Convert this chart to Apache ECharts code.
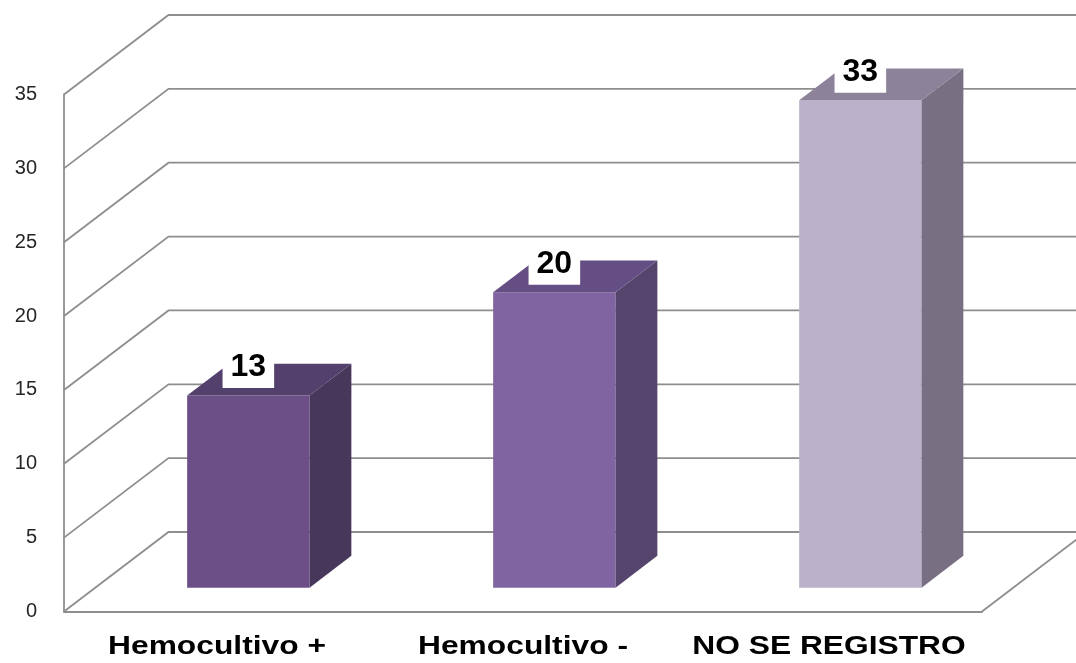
<!DOCTYPE html>
<html>
<head>
<meta charset="utf-8">
<script src="https://cdn.jsdelivr.net/npm/echarts@6/dist/echarts.min.js"></script>
<style>
  html, body { margin: 0; padding: 0; background: #fff; }
  #chart { width: 1076px; height: 663px; }
</style>
</head>
<body>
<div id="chart"></div>
<script>
// Blood-culture results (counts)
const categories = ['Hemocultivo +', 'Hemocultivo -', 'NO SE REGISTRO'];
const counts = [13, 20, 33];
const yTicks = [0, 5, 10, 15, 20, 25, 30, 35];

// face colours per bar: front, side, top
const barFront = ['#6b4f86', '#8064a2', '#bab1ca'];
const barSide = ['#47375b', '#55446c', '#786f82'];
const barTop = ['#54406c', '#654e84', '#8c839a'];

// oblique projection of the box: full depth offset in pixels
const DEPTH_X = 104.5;
const DEPTH_Y = -79.5;
const BAR_FRONT = 0.3;   // depth fraction where a bar starts
const BAR_DEPTH = 0.4;   // depth fraction a bar occupies
const BAR_WIDTH = 0.4;   // fraction of the category band
const WALL_COLOR = '#8e8e8e';
const WALL_WIDTH = 1.8;

const chart = echarts.init(document.getElementById('chart'), null, { renderer: 'canvas' });

// side wall + back wall + floor lines, one item per tick value
function renderWalls(params, api) {
  const cs = params.coordSys;
  const v = api.value(1);
  const y = api.coord([0, v])[1];
  const x0 = cs.x, x1 = cs.x + cs.width;
  const lineStyle = { stroke: WALL_COLOR, lineWidth: WALL_WIDTH, fill: null };
  const children = [
    { type: 'polyline', shape: { points: [[x0, y], [x0 + DEPTH_X, y + DEPTH_Y], [x1 + DEPTH_X, y + DEPTH_Y]] }, style: lineStyle }
  ];
  if (v === 0) {
    children.push({ type: 'line', shape: { x1: x1, y1: y, x2: x1 + DEPTH_X, y2: y + DEPTH_Y }, style: lineStyle });
  }
  return { type: 'group', children: children };
}

// 3D box bars with a value tag over the top face
function renderBars(params, api) {
  const i = api.value(0);
  const v = api.value(1);
  const base = api.coord([i, 0]);
  const top = api.coord([i, v]);
  const catW = api.size([1, 0])[0];
  const w = catW * BAR_WIDTH;
  const ox = DEPTH_X * BAR_FRONT, oy = DEPTH_Y * BAR_FRONT;
  const dx = DEPTH_X * BAR_DEPTH, dy = DEPTH_Y * BAR_DEPTH;
  const xl = base[0] - w / 2 + ox, xr = xl + w;
  const yb = base[1] + oy, yt = top[1] + oy;
  return {
    type: 'group',
    children: [
      { type: 'rect', shape: { x: xl, y: yt, width: w, height: yb - yt }, style: { fill: barFront[i] } },
      { type: 'polygon', shape: { points: [[xr, yt], [xr, yb], [xr + dx, yb + dy], [xr + dx, yt + dy]] }, style: { fill: barSide[i] } },
      { type: 'polygon', shape: { points: [[xl, yt], [xr, yt], [xr + dx, yt + dy], [xl + dx, yt + dy]] }, style: { fill: barTop[i] } },
      {
        type: 'text', x: (xl + xr) / 2, y: yt - 7.5, z2: 10,
        style: {
          text: String(v), fill: '#000',
          font: 'bold 32px "Liberation Sans", Arial, sans-serif',
          align: 'center', verticalAlign: 'bottom',
          textAlign: 'center', textVerticalAlign: 'bottom',
          lineHeight: 31,
          backgroundColor: '#ffffff', padding: [2, 8, 5, 8]
        }
      }
    ]
  };
}

// category names under the floor edge
function renderCategoryLabels(params, api) {
  const i = api.value(0);
  const p = api.coord([i, 0]);
  return {
    type: 'text', x: p[0], y: p[1] + 36, scaleX: 1.27,
    style: {
      text: categories[i], fill: '#000',
      font: 'bold 25px "Liberation Sans", Arial, sans-serif',
      align: 'center', verticalAlign: 'middle',
      textAlign: 'center', textVerticalAlign: 'middle'
    }
  };
}

chart.setOption({
  backgroundColor: '#ffffff',
  animation: false,
  grid: { left: 64, right: 94, top: 94.5, bottom: 51.5, containLabel: false },
  xAxis: {
    type: 'category',
    data: categories,
    boundaryGap: true,
    axisLine: { show: true, lineStyle: { color: WALL_COLOR, width: WALL_WIDTH } },
    axisTick: { show: false },
    axisLabel: { show: false },
    splitLine: { show: false }
  },
  yAxis: {
    type: 'value',
    min: 0, max: 35, interval: 5,
    axisLine: { show: true, lineStyle: { color: WALL_COLOR, width: WALL_WIDTH } },
    axisTick: { show: false },
    splitLine: { show: false },
    axisLabel: {
      margin: 27,
      color: '#262626',
      fontSize: 20,
      padding: [4, 0, 0, 0],
      fontFamily: '"Liberation Sans", Arial, sans-serif'
    }
  },
  series: [
    {
      type: 'custom', name: 'walls', z: 1, silent: true, clip: false,
      renderItem: renderWalls,
      data: yTicks.map(v => [0, v])
    },
    {
      type: 'custom', name: 'Casos', z: 3, clip: false,
      renderItem: renderBars,
      data: counts.map((v, i) => [i, v])
    },
    {
      type: 'custom', name: 'categorias', z: 3, silent: true, clip: false,
      renderItem: renderCategoryLabels,
      data: categories.map((c, i) => [i, 0])
    }
  ]
});
</script>
</body>
</html>
